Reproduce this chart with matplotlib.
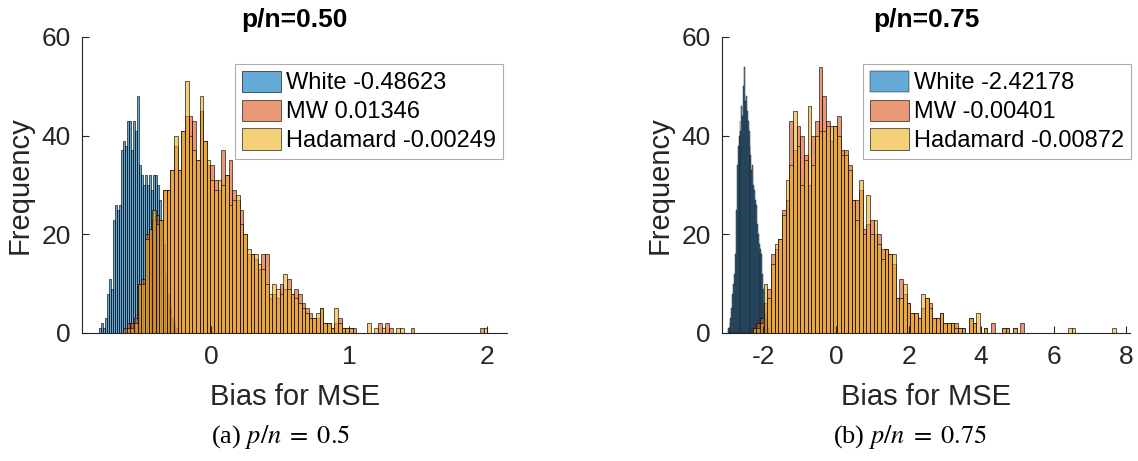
import numpy as np
import matplotlib.pyplot as plt

plt.rcParams['font.family'] = ['Liberation Sans', 'DejaVu Sans']
plt.rcParams['mathtext.fontset'] = 'stix'
plt.rcParams['axes.unicode_minus'] = False

# ---- data: histogram counts ----
# (a) p/n = 0.50
white_a_start, white_a_width = -0.81, 0.0145
white_a = [1, 2, 1, 3, 8, 11, 9, 23, 26, 25, 26, 37, 39, 38, 43, 43, 37, 43, 41, 48,
           34, 32, 30, 32, 30, 32, 29, 32, 32, 30, 27, 23, 18, 12, 8, 5, 3, 2, 1]
mw_a_start, mw_a_width = -0.638, 0.0264
mw_a = [1, 2, 2, 3, 10, 11, 20, 21, 23, 24,
        23, 29, 29, 33, 38, 33, 41, 44, 44, 43,
        35, 45, 39, 34, 34, 31, 29, 37, 32, 35,
        29, 27, 25, 20, 16, 16, 15, 13, 16, 16,
        7, 8, 7, 10, 9, 11, 8, 9, 8, 6,
        5, 4, 3, 3, 5, 2, 2, 1, 2, 3,
        1, 1, 1, 1, 0, 0, 0, 0, 0, 0,
        2, 0, 2, 1, 0, 0, 0, 0, 0, 1,
        0, 0, 0, 0, 0, 0, 0, 0, 0, 0,
        0, 0, 0, 0, 0, 0, 0, 0, 1, 0]
had_a = [0, 1, 1, 2, 10, 10, 19, 21, 25, 22,
         23, 29, 29, 33, 40, 33, 41, 51, 40, 37,
         35, 48, 39, 35, 31, 29, 31, 30, 32, 26,
         27, 28, 22, 20, 17, 16, 16, 14, 13, 10,
         8, 10, 9, 8, 12, 9, 8, 7, 6, 5,
         4, 3, 3, 4, 5, 2, 2, 1, 5, 2,
         1, 1, 1, 0, 0, 0, 0, 2, 0, 1,
         0, 1, 0, 0, 0, 1, 1, 0, 0, 0,
         0, 0, 0, 0, 0, 0, 0, 0, 0, 0,
         0, 0, 0, 0, 0, 0, 0, 0, 0, 1]

# (b) p/n = 0.75
white_b_start, white_b_width = -2.98, 0.025
white_b = [1, 1, 2, 3, 5, 8, 10, 12, 16, 25, 34, 38, 40, 43, 41, 46, 44, 50, 54, 47,
           48, 45, 43, 41, 38, 36, 33, 34, 30, 29, 27, 26, 22, 20, 18, 16, 17, 16, 12, 9,
           6, 4, 3, 2, 1]
mw_b_start, mw_b_width = -2.29, 0.101
mw_b = [1, 2, 3, 6, 9, 16, 17, 19, 25, 27,
        43, 37, 42, 40, 36, 30, 40, 43, 54, 48,
        43, 39, 42, 44, 37, 37, 34, 27, 27, 29,
        21, 22, 23, 20, 20, 17, 17, 16, 14, 7,
        11, 8, 6, 4, 4, 3, 5, 7, 6, 3,
        3, 4, 2, 2, 2, 2, 1, 1, 0, 3,
        2, 0, 0, 1, 0, 2, 0, 0, 1, 1,
        0, 1, 0, 2, 0, 0, 0, 0, 0, 0,
        0, 0, 0, 0, 0, 0, 0, 0, 0, 0,
        0, 0, 0, 0, 0, 0, 0, 0, 0, 0]
had_b = [1, 1, 2, 10, 7, 14, 18, 19, 24, 31,
         34, 45, 38, 30, 35, 46, 34, 40, 41, 41,
         42, 42, 42, 40, 36, 36, 33, 27, 23, 31,
         20, 28, 20, 23, 18, 15, 17, 16, 16, 7,
         7, 10, 6, 4, 4, 3, 8, 7, 5, 3,
         3, 4, 2, 2, 2, 1, 1, 1, 0, 3,
         2, 4, 0, 1, 0, 0, 0, 0, 1, 1,
         0, 1, 0, 0, 0, 0, 0, 0, 0, 0,
         0, 0, 0, 0, 0, 0, 1, 1, 0, 0,
         0, 0, 0, 0, 0, 0, 0, 0, 1, 0]

labels_a = ['White -0.48623', 'MW 0.01346', 'Hadamard -0.00249']
labels_b = ['White -2.42178', 'MW -0.00401', 'Hadamard -0.00872']
titles = ['p/n=0.50', 'p/n=0.75']
captions = [r'(a) $p/n\;=\;0.5$', r'(b) $p/n\;=\;0.75$']

# matlab default colours, FaceAlpha 0.6
c_blue = (0.0, 0.447, 0.741, 0.6)
c_orange = (0.85, 0.325, 0.098, 0.6)
c_yellow = (0.929, 0.694, 0.125, 0.6)
gray = (0.15, 0.15, 0.15)


def histbars(ax, start, width, counts, color, label, lw=0.5):
    left = start + width * np.arange(len(counts))
    return ax.bar(left, counts, width=width, align='edge', facecolor=color,
                  edgecolor=(0, 0, 0, 0.85), linewidth=lw, label=label)


fig = plt.figure(figsize=(11.38, 4.61), dpi=100)
ax1 = fig.add_axes([0.0721, 0.2777, 0.3735, 0.6421])
ax2 = fig.add_axes([0.6344, 0.2777, 0.3585, 0.6421])

histbars(ax1, white_a_start, white_a_width, white_a, c_blue, labels_a[0])
histbars(ax1, mw_a_start, mw_a_width, mw_a, c_orange, labels_a[1])
histbars(ax1, mw_a_start, mw_a_width, had_a, c_yellow, labels_a[2])

histbars(ax2, white_b_start, white_b_width, white_b, c_blue, labels_b[0], lw=0.35)
histbars(ax2, mw_b_start, mw_b_width, mw_b, c_orange, labels_b[1])
histbars(ax2, mw_b_start, mw_b_width, had_b, c_yellow, labels_b[2])

ax1.set_xlim(-0.935, 2.145)
ax1.set_xticks([0, 1, 2])
ax2.set_xlim(-3.14, 8.1)
ax2.set_xticks([-2, 0, 2, 4, 6, 8])

for ax, t, anchor_x in zip([ax1, ax2], titles, [0.99, 1.003]):
    ax.set_ylim(0, 60)
    ax.set_yticks([0, 20, 40, 60])
    ax.spines['top'].set_visible(False)
    ax.spines['right'].set_visible(False)
    for s in ['left', 'bottom']:
        ax.spines[s].set_color(gray)
        ax.spines[s].set_linewidth(0.8)
    ax.tick_params(direction='in', length=5, width=0.8, colors=gray,
                   labelsize=19, pad=8)
    ax.tick_params(axis='x', pad=9)
    ax.set_title(t, fontsize=19, fontweight='bold', pad=7)
    ax.set_xlabel('Bias for MSE', fontsize=21, color=gray, labelpad=10)
    ax.set_ylabel('Frequency', fontsize=21, color=gray, labelpad=6)
    leg = ax.legend(loc='upper right', bbox_to_anchor=(anchor_x, 0.91), fontsize=17,
                    frameon=True, fancybox=False, handlelength=1.65,
                    handleheight=1.0, labelspacing=0.22, borderpad=0.3,
                    handletextpad=0.2, borderaxespad=0.0)
    leg.get_frame().set_edgecolor((0.6, 0.6, 0.6))
    leg.get_frame().set_linewidth(0.8)

fig.text(281 / 1138, 1 - 437 / 461, captions[0], ha='center', va='center',
         fontsize=19, family='Liberation Serif')
fig.text(910 / 1138, 1 - 437 / 461, captions[1], ha='center', va='center',
         fontsize=19, family='Liberation Serif')

fig.savefig('out.png', dpi=100)
